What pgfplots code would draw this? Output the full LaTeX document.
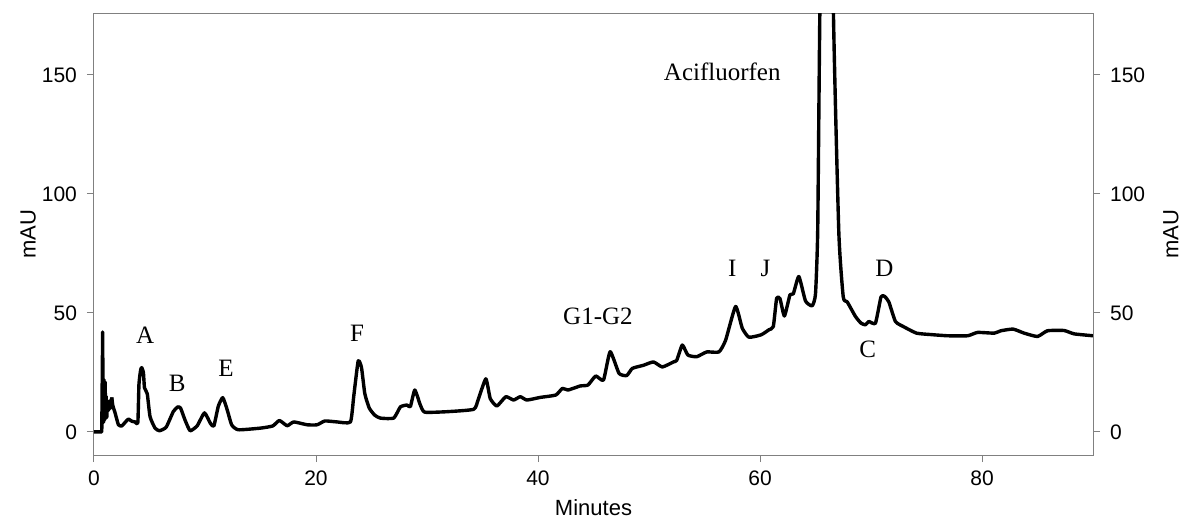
\documentclass[border=0pt]{standalone}
\usepackage{pgfplots}
\pgfplotsset{compat=1.18}
\usepackage{fontspec}
\setmainfont{Liberation Sans}
\newfontfamily\pkfont{Liberation Serif}
\pgfplotstableread{
x y
0.0 0
0.7 0
0.78 42
0.82 8
0.86 4
0.9 22
0.95 5
1.0 21
1.05 8
1.1 15
1.15 6
1.2 12
1.3 9
1.4 13
1.5 10
1.6 14.5
}\chromA
\pgfplotstableread{
x y
1.6 14.5
1.7 11
1.9 8
2.2 3
2.5 2.5
2.8 4
3.1 5.4
3.4 4.5
3.7 4.2
3.95 4
4.05 20
4.2 26
4.3 27
4.45 25
4.55 18.5
4.8 16
5.05 6.4
5.5 1.6
5.9 0.5
6.5 2
7.15 8.6
7.55 10.5
7.8 10
8.2 5
8.66 0.5
9.3 2.6
9.95 8
10.5 3.5
10.8 2.5
11.2 10.8
11.6 14.4
12.0 9.3
12.4 3
13.0 0.9
15.0 1.6
16.1 2.5
16.7 4.8
17.4 2.6
18.0 4.2
19.2 3
20.1 3
20.8 4.6
21.9 4.2
23.1 4.2
23.4 15
23.8 29.8
24.1 27
24.4 16
24.8 10
25.3 7
25.8 5.8
27.0 5.8
27.6 10.5
28.2 11.3
28.5 10.6
28.9 17.6
29.4 11.3
29.8 8.3
31.8 8.5
34.2 9.5
34.6 13.4
35.3 22.3
35.7 14
36.3 10.9
37.1 14.8
37.8 13.4
38.4 14.8
39.0 13.4
40.2 14.5
41.6 15.5
42.2 18.3
42.7 17.6
43.8 19.3
44.5 19.7
45.2 23.5
45.9 21.8
46.5 33.7
47.3 24.6
48.0 23.7
48.5 26.7
49.5 28
50.4 29.4
51.2 27.3
52.2 29.4
52.5 30.1
53.0 36.5
53.5 32.3
54.3 31.6
55.2 33.6
56.3 33.6
56.9 38.5
57.8 52.7
58.4 43.6
59.0 39.8
60.1 40.8
60.8 42.9
61.2 44.3
61.5 56.2
61.8 56
62.2 48.7
62.7 57.6
63.0 58
63.5 65.3
64.1 55
64.7 53
65.0 58
65.2 85
65.4 180
66.0 400
66.6 180
67.1 84
67.5 56.7
67.85 54.7
68.6 48.5
69.1 45.7
69.5 45
69.8 46.4
70.4 45.7
70.9 56.7
71.2 57
71.6 54.7
72.2 46.4
72.9 44.3
74.1 41.5
75.4 40.9
76.9 40.4
78.7 40.4
79.6 41.8
81.1 41.5
81.7 42.5
82.8 43.2
83.8 41.5
85.0 40.1
85.9 42.5
87.4 42.6
88.3 41.2
90.0 40.4
}\chromB
\begin{document}
\begin{tikzpicture}
\pgfplotsset{
  common/.style={
    scale only axis, width=499.5pt, height=221pt,
    xmin=0, xmax=90, ymin=-9.7, ymax=176,
    axis line style={gray, line width=0.5pt},
    tick style={gray, line width=0.5pt},
    tick align=outside, major tick length=3.5pt,
    ytick={0,50,100,150},
    /pgf/number format/assume math mode=true,
    tick label style={font=\fontsize{10.5}{12}\selectfont},
    label style={font=\fontsize{11}{13}\selectfont},
  }
}
\begin{axis}[common,
  xtick={0,20,40,60,80}, xtick pos=bottom, ytick pos=left,
  xlabel={Minutes}, ylabel={mAU},
  xlabel style={at={(axis description cs:0.5,-0.12)}, anchor=center},
  ylabel style={at={(axis description cs:-0.066,0.5)}, rotate=0, anchor=center},
  yticklabel style={xshift=-1.5pt},
  xticklabel style={yshift=-1pt},
]
\addplot[black, line width=1.7pt, line join=round] table[x=x,y=y] {\chromA};
\addplot[black, line width=1.7pt, line join=round, smooth, tension=0.3] table[x=x,y=y] {\chromB};
\node[font=\pkfont\fontsize{12.5}{14}\selectfont] at (axis cs:4.6,40.5) {A};
\node[font=\pkfont\fontsize{12.5}{14}\selectfont] at (axis cs:7.5,20.4) {B};
\node[font=\pkfont\fontsize{12.5}{14}\selectfont] at (axis cs:11.9,26.8) {E};
\node[font=\pkfont\fontsize{12.5}{14}\selectfont] at (axis cs:23.7,41.6) {F};
\node[font=\pkfont\fontsize{12.5}{14}\selectfont] at (axis cs:45.4,48.5) {G1-G2};
\node[font=\pkfont\fontsize{12.5}{14}\selectfont] at (axis cs:57.5,68.8) {I};
\node[font=\pkfont\fontsize{12.5}{14}\selectfont] at (axis cs:60.5,68.8) {J};
\node[font=\pkfont\fontsize{12.5}{14}\selectfont] at (axis cs:56.6,151.4) {Acifluorfen};
\node[font=\pkfont\fontsize{12.5}{14}\selectfont] at (axis cs:71.2,68.8) {D};
\node[font=\pkfont\fontsize{12.5}{14}\selectfont] at (axis cs:69.7,34.5) {C};
\coordinate (ll) at (rel axis cs:0,0);
\coordinate (ur) at (rel axis cs:1,1);
\end{axis}
\begin{axis}[common,
  axis x line=none, axis y line*=right,
  ylabel={mAU},
  ylabel style={at={(axis description cs:1.078,0.5)}, rotate=0, anchor=center},
  yticklabel style={xshift=1.5pt},
]
\end{axis}
\pgfresetboundingbox
\path[use as bounding box] ([xshift=-47pt,yshift=-33pt]ll) rectangle ([xshift=44pt,yshift=6.5pt]ur);
\end{tikzpicture}
\end{document}
